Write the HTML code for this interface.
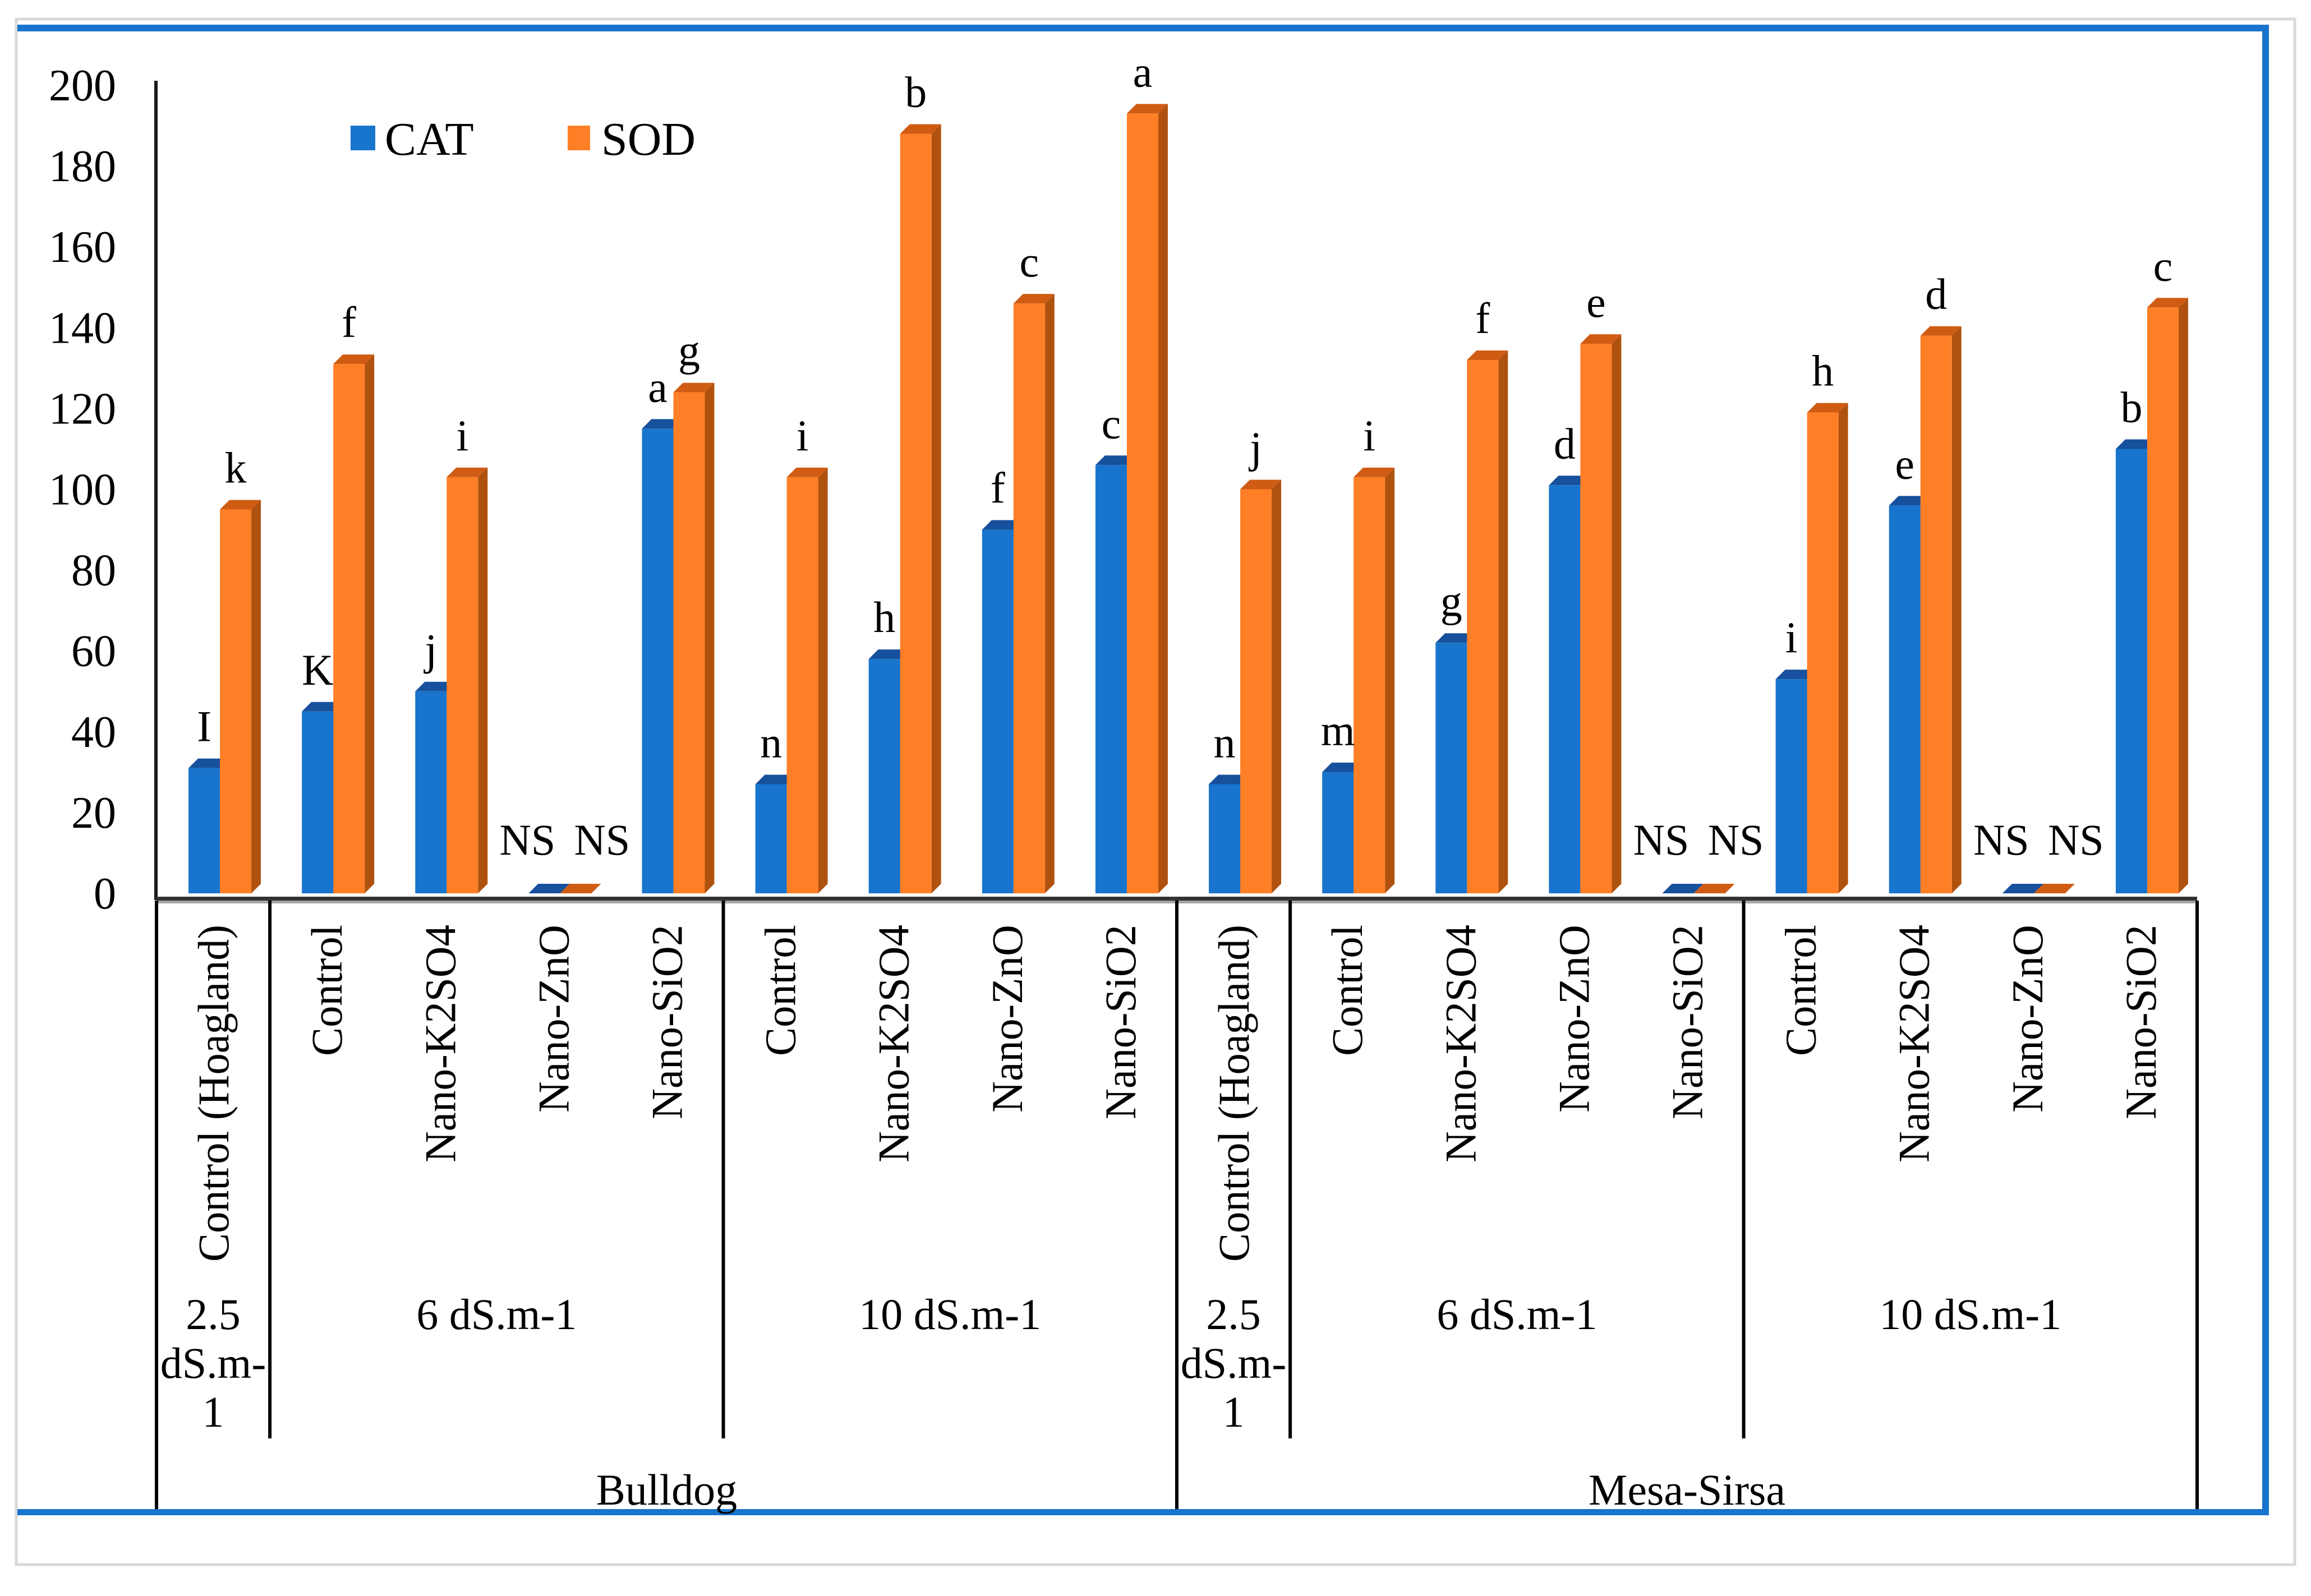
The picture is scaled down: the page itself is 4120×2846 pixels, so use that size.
<!DOCTYPE html>
<html><head><meta charset="utf-8"><style>html,body{margin:0;padding:0;background:#fff}svg{display:block}
svg text{font-family:"Liberation Serif","DejaVu Serif",serif;}</style></head>
<body>
<svg id="chart" xmlns="http://www.w3.org/2000/svg" width="4120" height="2846" viewBox="0 0 4120 2846">
<rect x="0" y="0" width="4120" height="2846" fill="#fff"/>
<rect x="29" y="34" width="4062" height="2756" fill="none" stroke="#d9d9d9" stroke-width="5"/>
<g id="frame" fill="#1874cc">
<rect x="31" y="44" width="4014" height="12"/>
<rect x="4033" y="44" width="12" height="2658"/>
<rect x="31" y="2691" width="4014" height="11"/>
</g>
<g id="yaxis"></g>
<g id="bars"></g>
<g id="labels"></g>
<g id="xaxis"></g>
<g id="legend">
<g>
<rect x="625" y="224" width="44" height="44" fill="#1874cc"/>
<text x="686" y="276" font-size="84" fill="#000">CAT</text></g>
<g>
<rect x="1012" y="224" width="40" height="44" fill="#ff7f27"/>
<text x="1072" y="276" font-size="84" fill="#000">SOD</text></g>
</g>
</svg>
<script>
const categories = ["Control (Hoagland)","Control","Nano-K2SO4","Nano-ZnO","Nano-SiO2","Control","Nano-K2SO4","Nano-ZnO","Nano-SiO2","Control (Hoagland)","Control","Nano-K2SO4","Nano-ZnO","Nano-SiO2","Control","Nano-K2SO4","Nano-ZnO","Nano-SiO2"];
const catValues = [31,45,50,0,115,27,58,90,106,27,30,62,101,0,53,96,0,110];
const sodValues = [95,131,103,0,124,103,188,146,193,100,103,132,136,0,119,138,0,145];
const catLetters = ["I","K","j","NS","a","n","h","f","c","n","m","g","d","NS","i","e","NS","b"];
const sodLetters = ["k","f","i","NS","g","i","b","c","a","j","i","f","e","NS","h","d","NS","c"];
const yTicks = [0,20,40,60,80,100,120,140,160,180,200];
const salinityGroups = [{label:["2.5","dS.m-","1"],start:0,end:1},{label:["6 dS.m-1"],start:1,end:5},{label:["10 dS.m-1"],start:5,end:9},{label:["2.5","dS.m-","1"],start:9,end:10},{label:["6 dS.m-1"],start:10,end:14},{label:["10 dS.m-1"],start:14,end:18}];
const cultivars = [{label:"Bulldog",start:0,end:9},{label:"Mesa-Sirsa",start:9,end:18}];

const NS='http://www.w3.org/2000/svg';
const X0=279, X1=3917, Y0=1593, YTOP=152, N=categories.length, SW=(X1-X0)/N;
const y=v=>Y0-(v/200)*(Y0-YTOP);
const xs=i=>X0+i*SW;
function mk(tag,attrs,parent){const e=document.createElementNS(NS,tag);for(const k in attrs)e.setAttribute(k,attrs[k]);parent.appendChild(e);return e;}
const gY=document.getElementById('yaxis'),gB=document.getElementById('bars'),gL=document.getElementById('labels'),gX=document.getElementById('xaxis');

yTicks.forEach(t=>{const e=mk('text',{x:207,y:y(t)+27,'font-size':80,'text-anchor':'end',fill:'#000'},gY);e.textContent=t;

});
const ya=mk('rect',{x:275,y:144,width:6,height:Y0-144+12,fill:'#1a1a1a'},gY);



const W=56,D=17;
function bar(x,v,front,top,side,name){
  const g=mk('g',{},gB);
  
  
  const t=y(v);
  mk('polygon',{points:`${x+W},${t} ${x+W+D},${t-D} ${x+W+D},${Y0-D} ${x+W},${Y0}`,fill:side},g);
  mk('polygon',{points:`${x},${t} ${x+D},${t-D} ${x+W+D},${t-D} ${x+W},${t}`,fill:top},g);
  if(v>0) mk('rect',{x:x,y:t,width:W,height:Y0-t,fill:front},g);
  return t;
}
function label(x,yy,txt,name){const e=mk('text',{x:x,y:yy,'font-size':78,'text-anchor':'middle',fill:'#000'},gL);e.textContent=txt;

}

for(let i=0;i<N;i++){
  const c=xs(i)+SW/2;
  const bx=c+12-W, ox=c+12;
  const t1=bar(bx,catValues[i],'#1874cc','#17509c','#15508f','bar-cat-'+i);
  const t2=bar(ox,sodValues[i],'#ff7f27','#d05c14','#b0520f','bar-sod-'+i);
  if(catValues[i]===0&&sodValues[i]===0){
    label(c-46,1524,catLetters[i],'label-cat-'+i);
    label(c+87,1524,sodLetters[i],'label-sod-'+i);
  } else {
    label(bx+W/2,t1-48,catLetters[i],'label-cat-'+i);
    label(ox+W/2,t2-48,sodLetters[i],'label-sod-'+i);
  }
}
const xl=mk('rect',{x:X0,y:1599,width:X1-X0,height:7,fill:'#333'},gX);


mk('rect',{x:X0,y:1606,width:X1-X0,height:5,fill:'#a6a6a6'},gX);
const lengths={"Control (Hoagland)":601,"Control":234,"Nano-K2SO4":424,"Nano-ZnO":335,"Nano-SiO2":347};
categories.forEach((c,i)=>{
  const cx=xs(i)+SW/2+27;
  const e=mk('text',{x:0,y:0,'font-size':78,'text-anchor':'end',fill:'#000',transform:`translate(${cx},1649) rotate(-90)`,textLength:lengths[c],lengthAdjust:'spacingAndGlyphs'},gX);
  e.textContent=c;
  
  
});
salinityGroups.forEach(g=>{
  const cx=(xs(g.start)+xs(g.end))/2;
  g.label.forEach((l,k)=>{const e=mk('text',{x:cx,y:2370+k*87,'font-size':78,'text-anchor':'middle',fill:'#000'},gX);e.textContent=l;
  
  });
  if(g.start%9!==0){const ln=mk('rect',{x:xs(g.start)-3,y:1606,width:6,height:2565-1606},gX);
  
  }
});
cultivars.forEach(g=>{
  const cx=(xs(g.start)+xs(g.end))/2;
  const e=mk('text',{x:cx,y:2683,'font-size':78,'text-anchor':'middle',fill:'#000'},gX);e.textContent=g.label;
  
  
});
[0,9,18].forEach(i=>{const ln=mk('rect',{x:xs(i)-3,y:1606,width:6,height:2691-1606},gX);

});
</script>
</body></html>
